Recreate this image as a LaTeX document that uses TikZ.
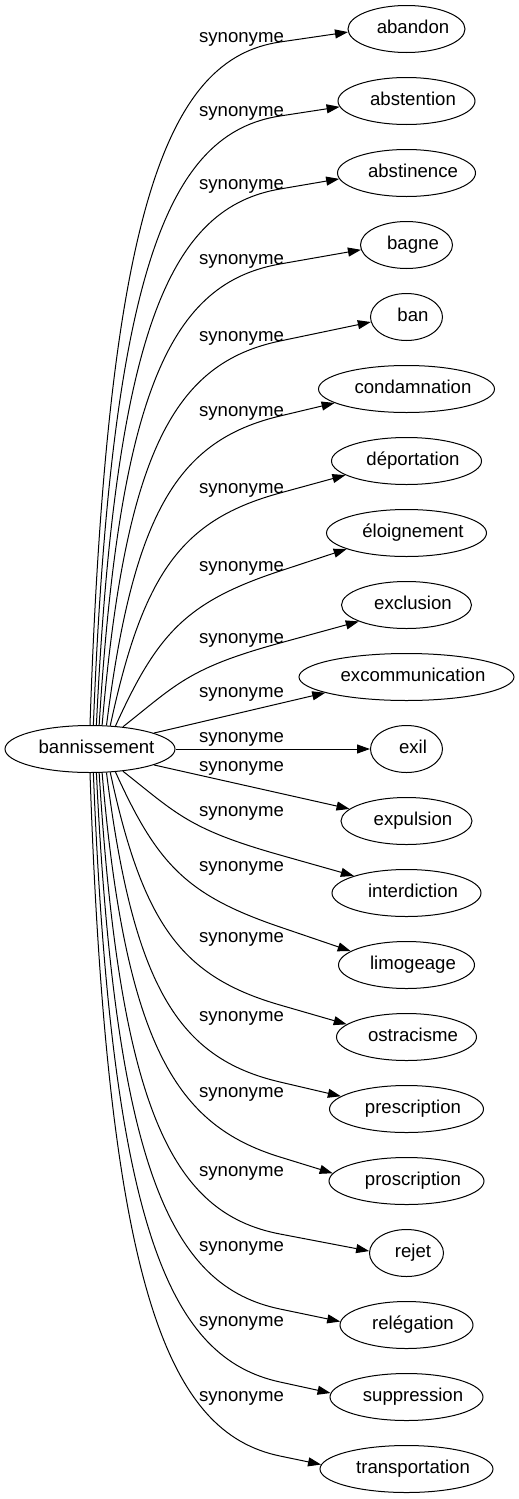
\documentclass[tikz,border=0pt]{standalone}
\usepackage{fontspec}
\setmainfont{Liberation Sans}
\usetikzlibrary{arrows.meta,calc,shapes.geometric}
\newcommand{\shifttext}[1]{\makebox[0pt]{\hspace*{13pt}#1}}
\begin{document}
\begin{tikzpicture}[x=1pt,y=-1pt,
  every node/.style={font=\fontsize{18.6}{22}\selectfont, text height=13.3pt, text depth=3.9pt},
  word/.style={ellipse, draw, line width=1pt, inner sep=0pt, minimum height=47pt},
  lbl/.style={inner sep=0pt},
  edgeline/.style={line width=1pt, -{Triangle[length=13pt,width=9pt]}}]
\useasboundingbox (0,0) rectangle (519,1499);
\node[word, minimum width=170pt] (src) at (90,749) {\shifttext{bannissement}};
\foreach \tg/\txt/\rx [count=\k from 0] in {
  abandon/abandon/58.5, abstention/abstention/68.5, abstinence/abstinence/69,
  bagne/bagne/46, ban/ban/36, condamnation/condamnation/88,
  deportation/déportation/75, eloignement/éloignement/80, exclusion/exclusion/65,
  excommunication/excommunication/107.5, exil/exil/36, expulsion/expulsion/65.5,
  interdiction/interdiction/74.5, limogeage/limogeage/68, ostracisme/ostracisme/70,
  prescription/prescription/77, proscription/proscription/77.5, rejet/rejet/37,
  relegation/relégation/66.5, suppression/suppression/76.5, transportation/transportation/86.5}
{
  \node[word, minimum width={2*\rx pt}] (\tg) at (406.5,{29+72*\k}) {\shifttext{\txt}};
}
\foreach \ly [count=\k] in {38,112,185,260,337,412,489,567,639,693,738,767,812,867,938,1017,1093,1172,1247,1322,1397}
{
  \node[lbl] (lab\k) at (241.5,\ly) {synonyme};
}
\foreach \tg/\sa/\my/\cx/\cy/\dist/\ta in {
  abandon/90/42/17.5/-517.7/114/183,
  abstention/82.9/116/18.1/-458.6/112/185,
  abstinence/75.9/189/19.1/-399.9/110/185,
  bagne/69.3/264/20.8/-338.8/109/186,
  ban/63.2/341/23.5/-275.8/107/188,
  condamnation/55.8/416/27.0/-215.0/104/191,
  deportation/49.4/493/32.8/-152.9/102/193,
  eloignement/42.5/571/41.9/-92.4/99/195,
  exclusion/34.8/643/54.0/-42.6/95/199,
  interdiction/-34.8/855/54.0/42.6/95/162,
  limogeage/-42.5/927/41.9/92.4/99/166,
  ostracisme/-49.4/1005/32.8/152.9/102/168,
  prescription/-55.8/1082/27.0/215.0/104/169,
  proscription/-63.2/1157/23.5/275.8/107/174,
  rejet/-69.3/1234/20.8/338.8/109/177,
  relegation/-75.9/1309/19.1/399.9/110/177,
  suppression/-82.9/1382/18.1/458.6/112/177,
  transportation/-90/1456/17.5/517.7/114/177}
{
  \draw[edgeline] (src.\sa) .. controls +(\cx,\cy) and ($(280,\my)!-\dist pt!(\tg.\ta)$) .. (280,\my) -- (\tg.\ta);
}
\draw[edgeline] (src.14) -- (excommunication.191);
\draw[edgeline] (src.east) -- (exil.west);
\draw[edgeline] (src.-14) -- (expulsion.168);
\end{tikzpicture}
\end{document}
